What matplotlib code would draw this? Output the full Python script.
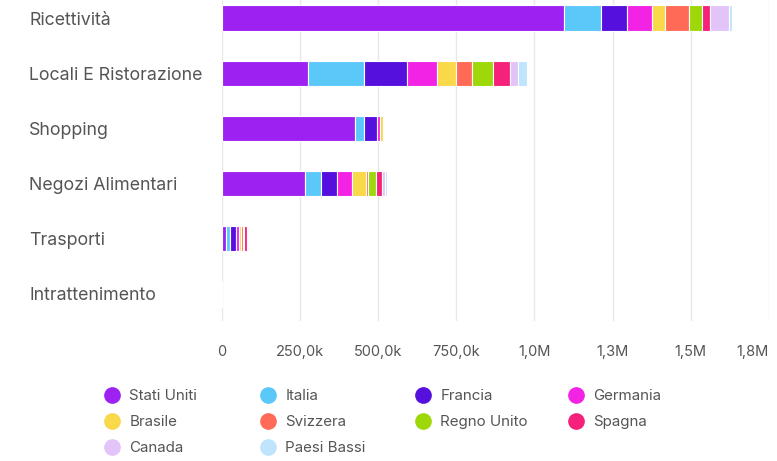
import numpy as np
import matplotlib
matplotlib.use("Agg")
import matplotlib.pyplot as plt
from matplotlib.lines import Line2D

plt.rcParams["font.family"] = ["Inter", "DejaVu Sans"]

categories = ["Ricettività", "Locali E Ristorazione", "Shopping",
              "Negozi Alimentari", "Trasporti", "Intrattenimento"]

countries = ["Stati Uniti", "Italia", "Francia", "Germania", "Brasile",
             "Svizzera", "Regno Unito", "Spagna", "Canada", "Paesi Bassi"]

colors = ["#9D22F2", "#5BC8FA", "#5610DE", "#F223E4", "#F9D84A",
          "#FF6B57", "#9ED80A", "#F5217A", "#E2C4F8", "#BEE5FD"]

# valori per paese, nell'ordine delle categorie
stati_uniti = [1094000, 274900, 426200, 265400, 14500, 1500]
italia      = [120400, 181000, 28800, 52100, 13500, 0]
francia     = [80600, 137500, 42600, 52100, 18500, 0]
germania    = [80100, 94900, 7000, 48000, 8500, 0]
brasile     = [42100, 61700, 12500, 42800, 7500, 0]
svizzera    = [76100, 49300, 500, 7400, 5000, 0]
regno_unito = [43100, 68100, 500, 24600, 5000, 0]
spagna      = [24500, 53400, 500, 19200, 8000, 0]
canada      = [61900, 27500, 300, 9600, 4000, 0]
paesi_bassi = [9100, 26900, 300, 7400, 2500, 0]

series = [stati_uniti, italia, francia, germania, brasile,
          svizzera, regno_unito, spagna, canada, paesi_bassi]

xticks = [0, 250000, 500000, 750000, 1000000, 1250000, 1500000, 1750000]
xtick_labels = ["0", "250,0k", "500,0k", "750,0k", "1,0M", "1,3M", "1,5M", "1,8M"]

fig = plt.figure(figsize=(7.77, 4.61), dpi=100)
ax = fig.add_axes([221.7 / 777, 140 / 461, (769 - 221.7) / 777, 321 / 461])

y = np.arange(len(categories))
left = np.zeros(len(categories))
for name, vals, col in zip(countries, series, colors):
    vals = np.array(vals, dtype=float)
    ax.barh(y, vals, left=left, height=0.455, color=col,
            edgecolor="white", linewidth=0.8, zorder=3)
    left += vals

ax.set_xlim(0, 1750000)
ax.set_ylim(5.49, -0.327)
ax.set_xticks(xticks)
ax.set_xticklabels(xtick_labels, fontsize=10.5, color="#555555")
ax.get_xticklabels()[-1].set_horizontalalignment("right")
ax.set_yticks(y)
ax.set_yticklabels(categories, fontsize=12.8, color="#555555")
for lab in ax.get_yticklabels():
    lab.set_horizontalalignment("left")
ax.tick_params(axis="y", length=0, pad=138.5)
ax.tick_params(axis="x", length=0, pad=17)
ax.grid(axis="x", color="#e8e8e8", linewidth=1, zorder=0)
for s in ax.spines.values():
    s.set_visible(False)

# legenda in righe da 4, una legenda per colonna
col_x = [104.5, 260.5, 415.5, 568.5]
for c in range(4):
    idx = list(range(c, len(countries), 4))
    handles = [Line2D([], [], marker="o", linestyle="", markersize=11,
                      markerfacecolor=colors[i], markeredgecolor=colors[i])
               for i in idx]
    fig.legend(handles, [countries[i] for i in idx], loc="upper left",
               bbox_to_anchor=(col_x[c] / 777, 1 - 389 / 461), frameon=False,
               fontsize=10.9, labelcolor="#555555", handletextpad=0.63,
               handlelength=1.0, borderpad=0, borderaxespad=0, labelspacing=0.79)

fig.savefig("out.png", dpi=100)
